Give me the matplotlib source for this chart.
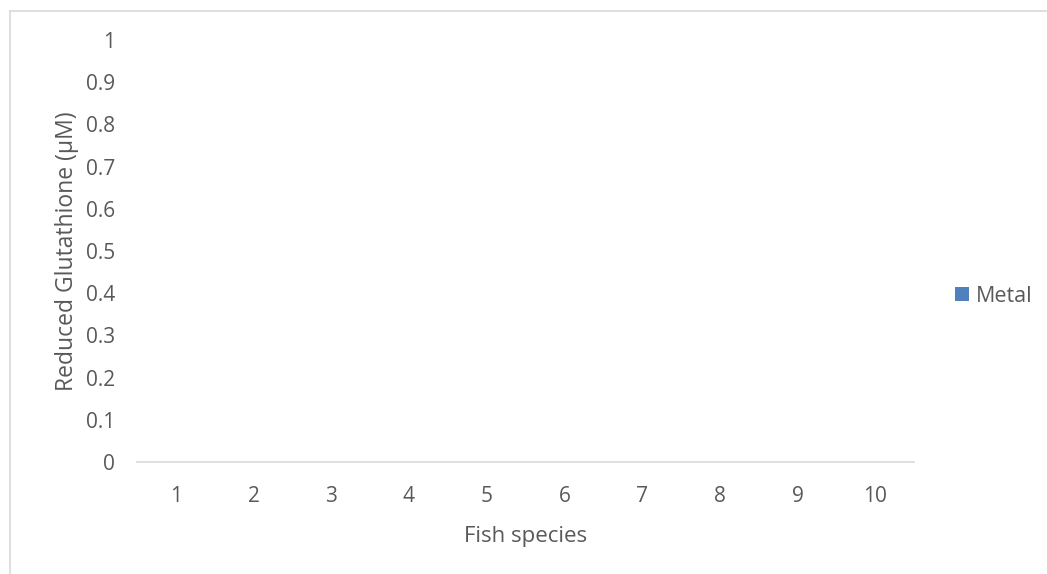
import numpy as np
import matplotlib.pyplot as plt
from matplotlib.lines import Line2D

plt.rcParams["font.family"] = ["Open Sans", "DejaVu Sans"]

# data
species = ["1", "2", "3", "4", "5", "6", "7", "8", "9", "10"]
metal = [0, 0, 0, 0, 0, 0, 0, 0, 0, 0]
yticks = [0, 0.1, 0.2, 0.3, 0.4, 0.5, 0.6, 0.7, 0.8, 0.9, 1]
ytick_labels = ["0", "0.1", "0.2", "0.3", "0.4", "0.5", "0.6", "0.7", "0.8", "0.9", "1"]

W, H = 1047, 574
fig = plt.figure(figsize=(W / 100, H / 100), dpi=100)
ax = fig.add_axes([137 / W, 1 - 462 / H, (914 - 137) / W, (462 - 40) / H])

txt = "#595959"
x = np.arange(1, len(species) + 1)
ax.bar(x, metal, width=0.5, color="#4F81BD", label="Metal")

ax.set_xlim(0.5, 10.5)
ax.set_ylim(0, 1)
ax.set_yticks(yticks)
ax.set_yticklabels(ytick_labels)
ax.set_xticks(x)
ax.set_xticklabels(species)
ax.tick_params(length=0, labelsize=15, colors=txt)
ax.tick_params(axis="y", pad=16)
ax.tick_params(axis="x", pad=17)
for s in ["top", "right", "left"]:
    ax.spines[s].set_visible(False)
ax.spines["bottom"].set_color("#d9d9d9")
ax.spines["bottom"].set_linewidth(1.2)

ax.set_ylabel("Reduced Glutathione (µM)", fontsize=16.5, color=txt, labelpad=5)
ax.set_xlabel("Fish species", fontsize=16, color=txt, labelpad=14)

ax.legend(loc="center left", bbox_to_anchor=(955 / W, 1 - 296 / H),
          bbox_transform=fig.transFigure, frameon=False, fontsize=15.5,
          labelcolor=txt, handlelength=0.65, handleheight=0.65, handletextpad=0.3,
          borderpad=0, borderaxespad=0)

# chart area border (left and top visible)
fig.add_artist(Line2D([10 / W, 10 / W], [0, 1 - 11 / H], transform=fig.transFigure,
                      color="#d9d9d9", lw=1.2))
fig.add_artist(Line2D([10 / W, 1], [1 - 11 / H, 1 - 11 / H], transform=fig.transFigure,
                      color="#d9d9d9", lw=1.2))

fig.savefig("out.png", dpi=100)
